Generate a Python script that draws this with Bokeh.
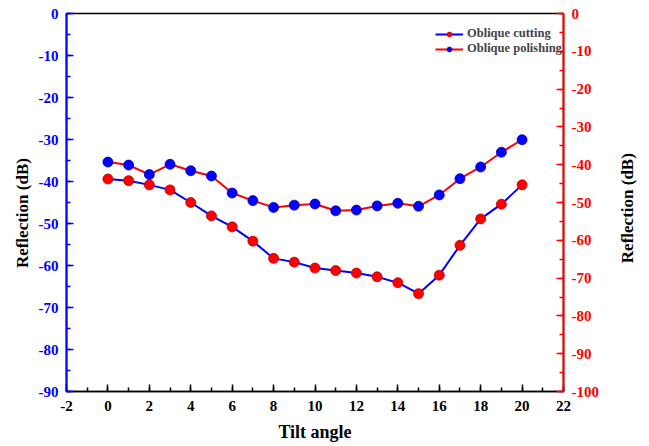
import math
from bokeh.plotting import figure
from bokeh.layouts import row
from bokeh.models import Range1d, LinearAxis, FixedTicker, Legend, PrintfTickFormatter
from bokeh.core.properties import value
from bokeh.embed import file_html
from bokeh.resources import INLINE

tilt = [0, 1, 2, 3, 4, 5, 6, 7, 8, 9, 10, 11, 12, 13, 14, 15, 16, 17, 18, 19, 20]
cutting = [-39.4, -39.8, -40.8, -42.0, -45.0, -48.2, -50.8, -54.2, -58.3, -59.2, -60.6,
           -61.2, -61.8, -62.7, -64.1, -66.7, -62.3, -55.2, -48.9, -45.4, -40.8]
polishing = [-39.3, -40.1, -42.6, -39.9, -41.6, -43.0, -47.5, -49.5, -51.3, -50.7, -50.4,
             -52.2, -52.0, -50.9, -50.2, -51.0, -48.0, -43.7, -40.6, -36.7, -33.4]
x_ticks = list(range(-2, 23, 2))
left_ticks = list(range(-90, 1, 10))
right_ticks = list(range(-100, 1, 10))

FONT = "Liberation Serif"
BLUE = "#0000ff"
RED = "#ff0000"
PAD = "\u00a0" * 5

p = figure(width=605, height=446, output_backend="svg", toolbar_location=None,
           x_range=Range1d(-2, 22), y_range=Range1d(-90, 0),
           min_border_left=66, min_border_right=42, min_border_top=13, min_border_bottom=55)
p.extra_y_ranges = {"right": Range1d(-100, 0)}
p.xgrid.visible = False
p.ygrid.visible = False
p.outline_line_color = "black"
p.outline_line_width = 1.5
p.background_fill_color = "white"
p.border_fill_color = "white"


def style_axis(ax, color, label_color):
    ax.formatter = PrintfTickFormatter(format="%d")
    ax.axis_label_text_font = FONT
    ax.axis_label_text_font_style = "bold"
    ax.axis_label_text_color = "black"
    ax.major_label_text_font = FONT
    ax.major_label_text_font_style = "bold"
    ax.major_label_text_font_size = "15px"
    ax.major_label_text_color = label_color
    ax.axis_line_color = color
    ax.axis_line_width = 2
    ax.major_tick_line_color = color
    ax.minor_tick_line_color = color
    ax.major_tick_in = 7
    ax.major_tick_out = 0
    ax.minor_tick_in = 4
    ax.minor_tick_out = 0
    ax.major_tick_line_width = 1.5
    ax.minor_tick_line_width = 1.5


# bottom axis
xa = p.xaxis[0]
xa.ticker = FixedTicker(ticks=x_ticks, minor_ticks=list(range(-2, 23)))
style_axis(xa, "black", "black")
xa.axis_line_width = 1.5
xa.axis_label = "Tilt angle"
xa.axis_label_text_font_size = "18px"
xa.axis_label_standoff = 8
xa.major_label_standoff = 9

# left axis
ya = p.yaxis[0]
ya.ticker = FixedTicker(ticks=left_ticks, minor_ticks=list(range(-90, 1, 5)))
style_axis(ya, BLUE, BLUE)
ya.axis_label = "Reflection (dB)" + PAD
ya.axis_label_text_font_size = "17px"
ya.axis_label_standoff = 4
ya.major_label_standoff = 8

# right axis
ra = LinearAxis(y_range_name="right",
                ticker=FixedTicker(ticks=right_ticks, minor_ticks=list(range(-100, 1, 5))))
style_axis(ra, RED, RED)
ra.major_label_standoff = 8
p.add_layout(ra, "right")

# series
l1 = p.line(tilt, cutting, line_color=BLUE, line_width=2)
s1 = p.scatter(tilt, cutting, size=10, fill_color=RED, line_color="#c00000", line_width=0.8)
l2 = p.line(tilt, polishing, line_color=RED, line_width=2, y_range_name="right")
s2 = p.scatter(tilt, polishing, size=10, fill_color=BLUE, line_color="#0000b0", line_width=0.8,
               y_range_name="right")

legend = Legend(items=[("Oblique cutting", [l1, s1]), ("Oblique polishing", [l2, s2])],
                location=(367, 333))
legend.label_text_font = FONT
legend.label_text_font_style = "bold"
legend.label_text_font_size = "12.5px"
legend.border_line_alpha = 0
legend.background_fill_alpha = 0
legend.glyph_width = 28
legend.glyph_height = 12
legend.spacing = 0
legend.padding = 2
legend.margin = 0
legend.label_standoff = 4
legend.label_height = 12
p.add_layout(legend, "center")

# narrow strip holding the right-hand axis title (reads bottom to top)
t = figure(width=44, height=446, output_backend="svg", toolbar_location=None,
           x_range=Range1d(0, 1), y_range=Range1d(0, 1),
           x_axis_location=None, y_axis_location=None,
           min_border_left=0, min_border_right=0, min_border_top=0, min_border_bottom=0)
t.xgrid.visible = False
t.ygrid.visible = False
t.outline_line_color = None
t.background_fill_color = "white"
t.border_fill_color = "white"
t.text(x=[0.5], y=[0.485], text=["Reflection (dB)"], angle=math.pi / 2,
       text_align="center", text_baseline="middle",
       text_font=value(FONT), text_font_style="bold", text_font_size="17px",
       text_color="black")

layout = row(p, t, spacing=0)
open("out.html", "w").write(file_html(layout, INLINE))
